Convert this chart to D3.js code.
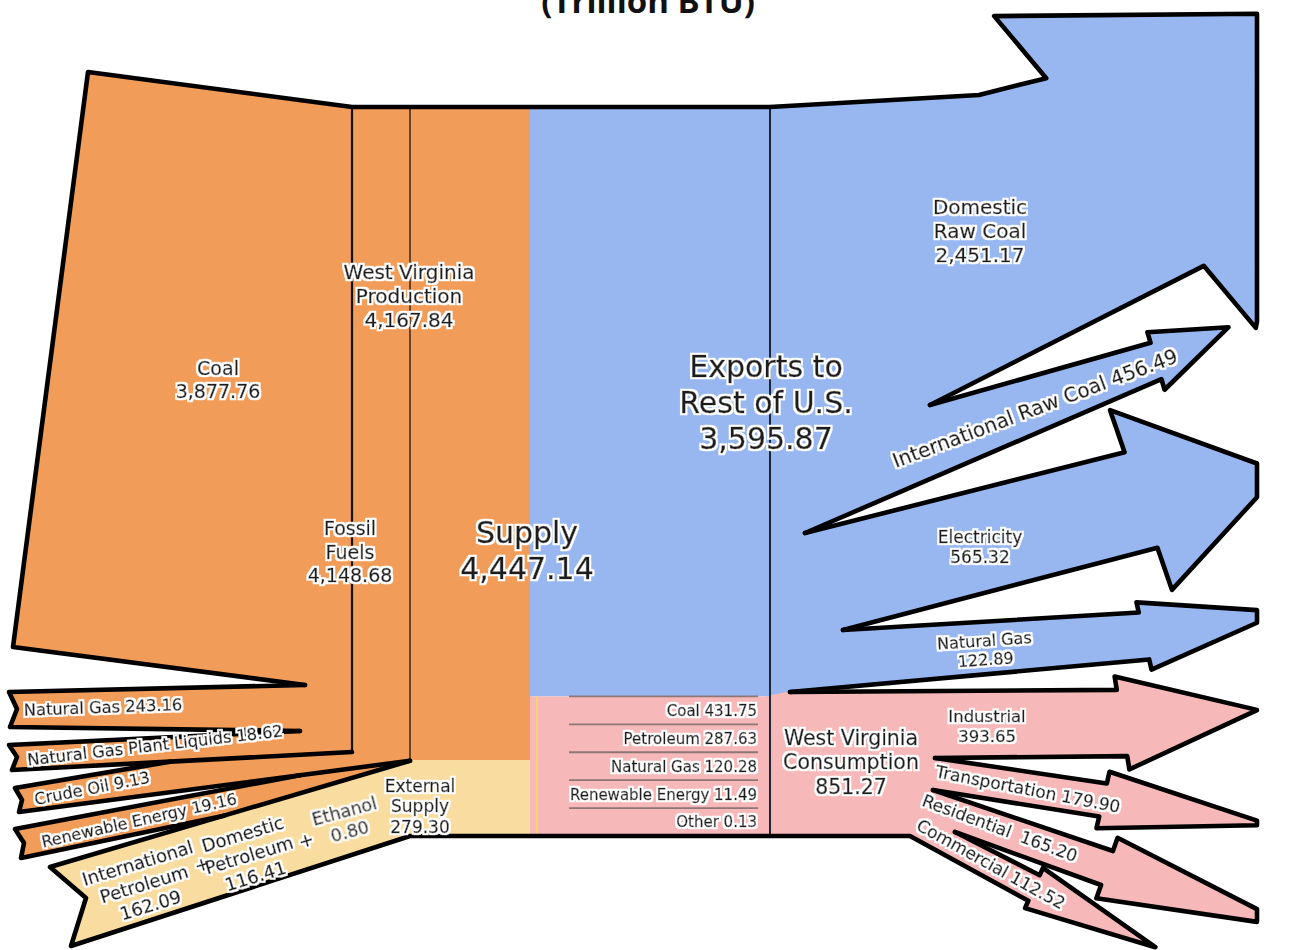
<!DOCTYPE html>
<html><head><meta charset="utf-8">
<script src="https://cdn.jsdelivr.net/npm/d3@7"></script>
<style>
html,body{margin:0;padding:0;background:#fff;}
svg{display:block;}
text{white-space:pre;}
.lbl{font-family:'DejaVu Sans',sans-serif;fill:#1c1c1c;stroke:#1c1c1c;stroke-width:0.45px;}
</style></head><body>
<svg id="chart" width="1294" height="950">
  <defs>
    <filter id="halo" x="-5%" y="-5%" width="110%" height="110%">
      <feMorphology in="SourceAlpha" operator="dilate" radius="1.7" result="d"/>
      <feFlood flood-color="#ffffff"/>
      <feComposite in2="d" operator="in" result="w"/>
      <feMerge><feMergeNode in="w"/><feMergeNode in="SourceGraphic"/></feMerge>
    </filter>
  </defs>
</svg>
<script>
// ---------------- DATA (Trillion BTU) ----------------
const supplyTotal = 4447.14;
const supplyNames = ["West Virginia Production", "External Supply"];
const supplyValues = [4167.84, 279.30];
const productionNames = ["Fossil Fuels", "Renewable Energy"];
const productionValues = [4148.68, 19.16];
const fossilNames = ["Coal", "Natural Gas", "Natural Gas Plant Liquids", "Crude Oil"];
const fossilValues = [3877.76, 243.16, 18.62, 9.13];
const externalNames = ["International Petroleum", "Domestic Petroleum", "Ethanol"];
const externalValues = [162.09, 116.41, 0.80];
const useNames = ["Exports to Rest of U.S.", "West Virginia Consumption"];
const useValues = [3595.87, 851.27];
const exportNames = ["Domestic Raw Coal", "International Raw Coal", "Electricity", "Natural Gas"];
const exportValues = [2451.17, 456.49, 565.32, 122.89];
const sectorNames = ["Industrial", "Transportation", "Residential", "Commercial"];
const sectorValues = [393.65, 179.90, 165.20, 112.52];
const fuelNames = ["Coal", "Petroleum", "Natural Gas", "Renewable Energy", "Other"];
const fuelValues = [431.75, 287.63, 120.28, 11.49, 0.13];

// ---------------- LAYOUT ----------------
const fmt = d3.format(",.2f");
const COL_TOP = 107, COL_BOT = 836;
const X_FOSSIL = 352, X_PROD = 410, X_SUPPLY = 530, X_USE = 770;
const COL = {orange:"#F19D59", yellow:"#F9DC9F", blue:"#98B7F0", pink:"#F6B8B8"};

// demand side: linear value scale
const yUse = d3.scaleLinear().domain([0, supplyTotal]).range([COL_TOP, COL_BOT]);
const exportsBottom = yUse(useValues[0]);
// supply side: compressed display scale (keeps the small supplies visible)
const pw = d3.scalePow().exponent(0.8).domain([0, supplyTotal]).range([0, 1]);
function split(values, y0, y1) {
  const w = values.map(v => pw(v)), s = d3.sum(w);
  let acc = y0;
  return w.map(x => { const a = acc; acc += (y1 - y0) * x / s; return [a, acc]; });
}
const supplySeg = split(supplyValues, COL_TOP, COL_BOT);
const prodBottom = supplySeg[0][1];
const prodSeg = split(productionValues, COL_TOP, prodBottom);
const fossilBottom = prodSeg[0][1];

// left inflow tails [top, notch, bottom]
const coalTail = [[88, 72], [13, 647]];
const tails = [
  [[9, 692], [17, 709], [10, 727]],
  [[9, 745], [17, 757], [12, 770]],
  [[15, 788], [22, 800], [19, 812]],
  [[15, 829], [24, 843], [21, 858]],
  [[50, 867], [86, 898], [71, 946]]
];
const onLine = (p, q, x) => [x, p[1] + (q[1] - p[1]) * (x - p[0]) / (q[0] - p[0])];
const W1 = [305, 685], W2 = [300, 731];
const W3 = onLine(tails[1][2], [X_FOSSIL, fossilBottom], 170);
const W4 = onLine(tails[2][2], [X_PROD, prodBottom], 300);
const W5 = onLine(tails[4][0], [X_PROD, prodBottom], 224);

// right outflow arrows (head centre, base angle, tip angle, length, head width, body width)
const arrowLayout = [
  {c:[1125,172], base:-40,   tipA:-40,   len:247, hw:407, bw:245},
  {c:[1156,361], base:-16.6, tipA:-25,   len:80,  hw:60,  bw:38},
  {c:[1141,500], base:-19,   tipA:-11.4, len:142, hw:190, bw:101},
  {c:[1144,636], base:-12.6, tipA:-10,   len:140, hw:69,  bw:48},
  {c:[1122,723], base:-9,    tipA:-5.5,  len:136, hw:94,  bw:67},
  {c:[1103,800], base:13,    tipA:8.5,   len:169, hw:58,  bw:34},
  {c:[1107,868], base:19.3,  tipA:17.7,  len:194, hw:64,  bw:36},
  {c:[1034,888], base:24,    tipA:26,    len:135, hw:44,  bw:28}
];
const forks = [[930,405],[805,533],[843,630],[790,692],[935,758],[933,790],[955,832]];
const topVia = [979, 95];
const bottomCorner = [910, COL_BOT];
const CLIP_X = 1257;

function headPts(L) {
  const a = L.base * Math.PI / 180, n = [Math.sin(a), -Math.cos(a)];
  const t = L.tipA * Math.PI / 180;
  const P = k => [L.c[0] + n[0] * k, L.c[1] + n[1] * k];
  const tip = [L.c[0] + Math.cos(t) * L.len, L.c[1] + Math.sin(t) * L.len];
  const iT = P(L.bw / 2), bT = P(L.hw / 2), bB = P(-L.hw / 2), iB = P(-L.bw / 2);
  let tips = [tip];
  if (tip[0] > CLIP_X) {
    const cut = (p, q) => { const u = (CLIP_X - p[0]) / (q[0] - p[0]); return [CLIP_X, p[1] + u * (q[1] - p[1])]; };
    tips = [cut(bT, tip), cut(tip, bB)];
  }
  return [iT, bT, ...tips, bB, iB];
}

// stacked attachment of outflows on the demand column
function stack(values, y0) { let acc = y0; return values.map(v => { const a = acc; acc = a + (yUse(v) - COL_TOP); return [a, acc]; }); }
const outStack = stack(exportValues, COL_TOP).concat(stack(sectorValues, exportsBottom));
const outColor = exportValues.map(() => COL.blue).concat(sectorValues.map(() => COL.pink));

// ---------------- DRAW ----------------
const svg = d3.select("#chart");
const line = d3.line();
const gFill = svg.append("g"), gLines = svg.append("g"), gStroke = svg.append("g");
const gLbl = svg.append("g").attr("filter", "url(#halo)");
const poly = (g, pts, fill) => g.append("path").attr("d", line(pts) + "Z").attr("fill", fill)
  .attr("stroke", fill).attr("stroke-width", 1.5).attr("stroke-linejoin", "round");
const strokePath = pts => gStroke.append("path").attr("d", line(pts)).attr("fill", "none")
  .attr("stroke", "#000").attr("stroke-width", 4.6).attr("stroke-linejoin", "round").attr("stroke-linecap", "round");

// outflow arrow fills
const heads = arrowLayout.map(headPts);
heads.forEach((h, i) => {
  const s = outStack[i];
  const start = i === 0 ? [[X_USE - 2, COL_TOP], [X_USE, COL_TOP], topVia] : [[X_USE - 2, s[0]], forks[i - 1]];
  const end = i === heads.length - 1 ? [bottomCorner, [X_USE - 2, COL_BOT]] : [forks[i], [X_USE - 2, s[1]]];
  poly(gFill, start.concat(h, end), outColor[i]);
});

// supply side fill (coal + inflow bands + columns)
poly(gFill, [coalTail[0], [X_FOSSIL, COL_TOP], [X_SUPPLY, COL_TOP], [X_SUPPLY, prodBottom], [X_PROD, prodBottom], W5,
  tails[3][2], tails[3][1], tails[3][0], W4, tails[2][2], tails[2][1], tails[2][0], W3,
  tails[1][2], tails[1][1], tails[1][0], W2, tails[0][2], tails[0][1], tails[0][0], W1, coalTail[1]], COL.orange);
poly(gFill, [tails[4][0], W5, [X_PROD, prodBottom], [X_SUPPLY, prodBottom], [X_SUPPLY, COL_BOT], [X_PROD, COL_BOT], tails[4][2], tails[4][1]], COL.yellow);

// demand column
gFill.append("rect").attr("x", X_SUPPLY).attr("y", COL_TOP).attr("width", X_USE - X_SUPPLY).attr("height", exportsBottom - COL_TOP).attr("fill", COL.blue);
gFill.append("rect").attr("x", X_SUPPLY).attr("y", exportsBottom).attr("width", X_USE - X_SUPPLY).attr("height", COL_BOT - exportsBottom).attr("fill", COL.pink);
gLines.append("line").attr("x1", X_SUPPLY + 7).attr("x2", X_SUPPLY + 7).attr("y1", exportsBottom).attr("y2", COL_BOT)
  .attr("stroke", "#F5D66C").attr("stroke-width", 2);

// consumption-by-fuel rows
const band = d3.scaleBand().domain(fuelNames).range([exportsBottom, COL_BOT]);
fuelNames.forEach(f => {
  gLines.append("line").attr("x1", 569).attr("x2", 758).attr("y1", band(f)).attr("y2", band(f))
    .attr("stroke", "#8c7676").attr("stroke-width", 1.8);
});

// column lines
gLines.append("line").attr("x1", X_FOSSIL).attr("x2", X_FOSSIL).attr("y1", COL_TOP).attr("y2", fossilBottom).attr("stroke", "#111").attr("stroke-width", 2.2);
gLines.append("line").attr("x1", X_PROD).attr("x2", X_PROD).attr("y1", COL_TOP).attr("y2", prodBottom).attr("stroke", "#4a2e18").attr("stroke-width", 1.6);
gLines.append("line").attr("x1", X_USE).attr("x2", X_USE).attr("y1", COL_TOP).attr("y2", COL_BOT).attr("stroke", "#1d2433").attr("stroke-width", 2);

// outlines
heads.forEach((h, i) => {
  let pts;
  if (i === 0) pts = [W1, coalTail[1], coalTail[0], [X_FOSSIL, COL_TOP], [X_USE, COL_TOP], topVia].concat(h, [forks[0]]);
  else if (i === heads.length - 1) pts = [forks[i - 1]].concat(h, [bottomCorner, [X_PROD, COL_BOT], tails[4][2], tails[4][1], tails[4][0], W5, [X_PROD, prodBottom]]);
  else pts = [forks[i - 1]].concat(h, [forks[i]]);
  strokePath(pts);
});
strokePath([W1, tails[0][0], tails[0][1], tails[0][2], W2]);
strokePath([W2, tails[1][0], tails[1][1], tails[1][2], W3, [X_FOSSIL, fossilBottom]]);
strokePath([W3, tails[2][0], tails[2][1], tails[2][2], W4, [X_PROD, prodBottom]]);
strokePath([W4, tails[3][0], tails[3][1], tails[3][2], W5]);

// ---------------- LABELS ----------------
function label(lines, x, y, size, o = {}) {
  const angle = o.angle || 0, lh = o.lh || size * 1.2, anchor = o.anchor || "middle";
  const g = gLbl.append("g").attr("transform", `translate(${x},${y}) rotate(${angle})`);
  const n = lines.length;
  lines.forEach((s, i) => g.append("text").attr("class", "lbl").attr("x", 0).attr("y", (i - (n - 1) / 2) * lh)
    .attr("dy", "0.36em").attr("text-anchor", anchor).attr("font-size", size).text(s));
}

svg.append("text").attr("x", 648).attr("y", 13).attr("text-anchor", "middle").attr("font-size", 33)
  .attr("font-family", "'Open Sans',sans-serif").attr("font-weight", 700).attr("fill", "#111").text("(Trillion BTU)");

label([fossilNames[0], fmt(fossilValues[0])], 218, 380, 19, {lh: 23});
label(["West Virginia", "Production", fmt(supplyValues[0])], 409, 296, 20, {lh: 24});
label(["Fossil", "Fuels", fmt(productionValues[0])], 350, 552, 19, {lh: 23.5});
label(["Supply", fmt(supplyTotal)], 527, 550, 30, {lh: 35.5});
label(["Exports to", "Rest of U.S.", fmt(useValues[0])], 766, 402, 30, {lh: 36});
label(["West Virginia", "Consumption", fmt(useValues[1])], 851, 762, 20.5, {lh: 24.5});
label(["External", "Supply", fmt(supplyValues[1])], 420, 806, 17, {lh: 20.5});

label(["Domestic", "Raw Coal", fmt(exportValues[0])], 980, 231, 20, {lh: 24});
label([exportNames[1] + " " + fmt(exportValues[1])], 1035, 408, 20, {angle: -20.6});
label([exportNames[2], fmt(exportValues[2])], 980, 547, 17, {lh: 20});
label([exportNames[3], fmt(exportValues[3])], 985, 650, 16, {lh: 19, angle: -4});
label([sectorNames[0], fmt(sectorValues[0])], 987, 726, 16.5, {lh: 19.5});
label([sectorNames[1] + " " + fmt(sectorValues[1])], 1028, 789, 17, {angle: 11});
label([sectorNames[2] + "  " + fmt(sectorValues[2])], 1000, 828, 17, {angle: 20.3});
label([sectorNames[3] + " " + fmt(sectorValues[3])], 991, 864, 17, {angle: 29});

label([fossilNames[1] + " " + fmt(fossilValues[1])], 103, 707, 16.3, {angle: -2});
label([fossilNames[2] + " " + fmt(fossilValues[2])], 155, 745, 16.3, {angle: -6.5});
label([fossilNames[3] + " " + fmt(fossilValues[3])], 92, 788, 16.3, {angle: -11});
label([productionNames[1] + " " + fmt(productionValues[1])], 139, 820, 16, {angle: -12.6});

label(["International", "Petroleum", fmt(externalValues[0])], 144, 884, 18, {lh: 22, angle: -17});
label(["+"], 202, 864, 18, {angle: -17});
label(["Domestic", "Petroleum", fmt(externalValues[1])], 249, 855, 18, {lh: 22, angle: -17});
label(["+"], 306, 840, 18, {angle: -17});
label([externalNames[2], fmt(externalValues[2])], 347, 821, 17.5, {lh: 21, angle: -15});

fuelNames.forEach((f, i) => label([f + " " + fmt(fuelValues[i])], 757, band(f) + band.bandwidth() / 2, 15, {anchor: "end"}));
</script>
</body></html>
